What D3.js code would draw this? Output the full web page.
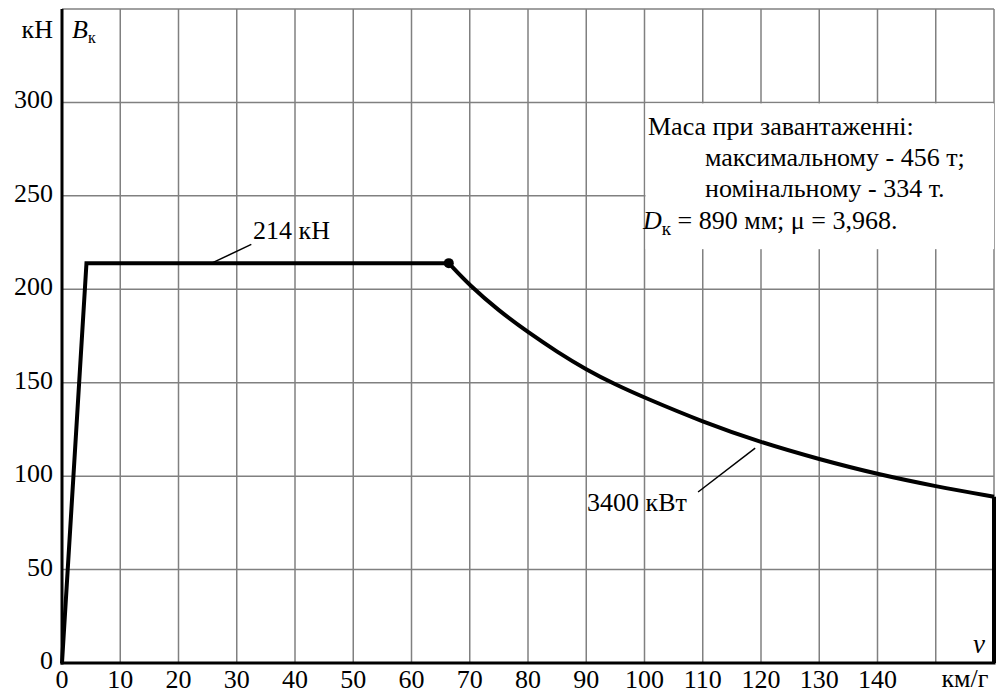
<!DOCTYPE html>
<html>
<head>
<meta charset="utf-8">
<script src="https://cdn.jsdelivr.net/npm/d3@7"></script>
<style>
  body { margin: 0; background: #fff; }
  svg text { font-family: "Liberation Serif", "Times New Roman", Times, "DejaVu Serif", serif; fill: #000; }
</style>
</head>
<body>
<div id="chart"></div>
<script>
// traction characteristic, values
const speedRamp = [0, 4.2, 66.4];
const forceRamp = [0, 214, 214];
const speedCurve = [66.4, 70, 75, 80, 85, 90, 95, 100, 110, 120, 130, 140, 150, 160];
const forceCurve = [214, 202, 188.5, 177, 166.5, 157, 149, 142, 129, 118, 109, 101, 94.5, 89];
const speedEnd = [160, 160];
const forceEnd = [89, 0];

const xTicks = [0, 10, 20, 30, 40, 50, 60, 70, 80, 90, 100, 110, 120, 130, 140];
const xGrid = [10, 20, 30, 40, 50, 60, 70, 80, 90, 100, 110, 120, 130, 140, 150];
const yTicks = [0, 50, 100, 150, 200, 250, 300];
const yGrid = [50, 100, 150, 200, 250, 300, 350];

const noteLines = [
  'Маса при завантаженні:',
  'максимальному - 456 т;',
  'номінальному - 334 т.'
];

const width = 1001;
const height = 694;
const fs = '26px';

const x = d3.scaleLinear().domain([0, 160]).range([62, 994]);
const y = d3.scaleLinear().domain([0, 350]).range([663, 9]);

const svg = d3.select('#chart')
  .append('svg')
  .attr('width', width)
  .attr('height', height);

// grid
svg.append('g')
  .selectAll('line')
  .data(xGrid)
  .enter().append('line')
  .attr('x1', d => x(d)).attr('x2', d => x(d))
  .attr('y1', y(0)).attr('y2', y(350))
  .style('stroke', '#808080')
  .style('stroke-width', 1.5);

svg.append('g')
  .selectAll('line')
  .data(yGrid)
  .enter().append('line')
  .attr('x1', x(0)).attr('x2', x(160))
  .attr('y1', d => y(d)).attr('y2', d => y(d))
  .style('stroke', '#808080')
  .style('stroke-width', 1.5);

// right border
svg.append('line')
  .attr('x1', x(160)).attr('x2', x(160))
  .attr('y1', y(0)).attr('y2', y(350))
  .style('stroke', '#808080')
  .style('stroke-width', 1.5);

// white box behind the note
svg.append('rect')
  .attr('x', x(100) + 1)
  .attr('y', y(300) + 1)
  .attr('width', x(160) - x(100) - 1)
  .attr('height', y(222) - y(300))
  .style('fill', '#fff');

// axes
svg.append('line')
  .attr('x1', x(0)).attr('x2', x(0))
  .attr('y1', y(0) + 1.5).attr('y2', y(350))
  .style('stroke', '#000')
  .style('stroke-width', 3);

svg.append('line')
  .attr('x1', x(0) - 1.5).attr('x2', x(160) + 1.5)
  .attr('y1', y(0)).attr('y2', y(0))
  .style('stroke', '#000')
  .style('stroke-width', 3);

// tick labels
svg.append('g')
  .selectAll('text')
  .data(xTicks)
  .enter().append('text')
  .attr('x', d => x(d))
  .attr('y', 688)
  .attr('text-anchor', 'middle')
  .style('font-size', fs)
  .text(d => d);

svg.append('g')
  .selectAll('text')
  .data(yTicks)
  .enter().append('text')
  .attr('x', 53)
  .attr('y', d => y(d) + 6)
  .attr('text-anchor', 'end')
  .style('font-size', fs)
  .text(d => d);

// axis titles
svg.append('text')
  .attr('x', 53).attr('y', 38)
  .attr('text-anchor', 'end')
  .style('font-size', fs)
  .text('кН');

const bk = svg.append('text')
  .attr('x', 72).attr('y', 38)
  .style('font-size', fs);
bk.append('tspan').style('font-style', 'italic').text('B');
bk.append('tspan').attr('dy', 5).style('font-size', '16px').text('к');

svg.append('text')
  .attr('x', x(155)).attr('y', 687)
  .attr('text-anchor', 'middle')
  .style('font-size', fs)
  .text('км/г');

svg.append('text')
  .attr('x', 985).attr('y', 653)
  .attr('text-anchor', 'end')
  .style('font-size', '27px')
  .style('font-style', 'italic')
  .text('v');

// the characteristic
const line = d3.line()
  .x(d => x(d[0]))
  .y(d => y(d[1]));

svg.append('path')
  .datum(d3.zip(speedRamp, forceRamp))
  .attr('d', line)
  .style('fill', 'none')
  .style('stroke', '#000')
  .style('stroke-width', 4)
  .style('stroke-linejoin', 'miter');

svg.append('path')
  .datum(d3.zip(speedCurve, forceCurve))
  .attr('d', d3.line().x(d => x(d[0])).y(d => y(d[1])).curve(d3.curveBasis))
  .style('fill', 'none')
  .style('stroke', '#000')
  .style('stroke-width', 4);

svg.append('path')
  .datum(d3.zip(speedEnd, forceEnd))
  .attr('d', line)
  .style('fill', 'none')
  .style('stroke', '#000')
  .style('stroke-width', 4);

svg.append('circle')
  .attr('cx', x(speedCurve[0]))
  .attr('cy', y(forceCurve[0]))
  .attr('r', 5)
  .style('fill', '#000');

// callouts
svg.append('line')
  .attr('x1', x(25.7)).attr('y1', y(214))
  .attr('x2', x(32.5)).attr('y2', y(224))
  .style('stroke', '#000')
  .style('stroke-width', 1.5);

svg.append('text')
  .attr('x', 253).attr('y', 239)
  .style('font-size', fs)
  .text('214 кН');

svg.append('line')
  .attr('x1', x(119)).attr('y1', y(115))
  .attr('x2', x(109.2)).attr('y2', y(91.5))
  .style('stroke', '#000')
  .style('stroke-width', 1.5);

svg.append('text')
  .attr('x', 587).attr('y', 511)
  .style('font-size', fs)
  .text('3400 кВт');

// note
svg.append('g')
  .selectAll('text')
  .data(noteLines)
  .enter().append('text')
  .attr('x', (d, i) => i === 0 ? 648 : 705)
  .attr('y', (d, i) => 135 + i * 31)
  .style('font-size', fs)
  .text(d => d);

const dk = svg.append('text')
  .attr('x', 643).attr('y', 229)
  .style('font-size', fs);
dk.append('tspan').style('font-style', 'italic').text('D');
dk.append('tspan').attr('dy', 6).style('font-size', '19px').text('к');
dk.append('tspan').attr('dy', -6).text(' = 890 мм; μ = 3,968.');
</script>
</body>
</html>
